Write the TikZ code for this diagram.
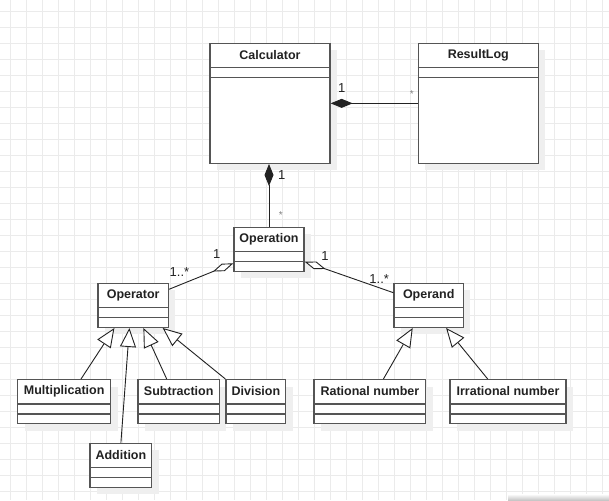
\documentclass[tikz,border=0pt]{standalone}
\usepackage{fontspec}
\setmainfont{Liberation Sans}
\usetikzlibrary{arrows.meta,shadows}
\definecolor{gridgray}{HTML}{EBEBEB}
\definecolor{shadowgray}{HTML}{EFEFEF}
\definecolor{boxgray}{HTML}{555555}
\definecolor{inkgray}{HTML}{222222}
\tikzset{
  cls/.style={draw=boxgray, line width=1.3pt, fill=white, minimum width=#1,
    minimum height=44pt, inner sep=0pt, anchor=north,
    drop shadow={shadow xshift=7pt, shadow yshift=-7pt, fill=shadowgray, opacity=1}},
  clstitle/.style={font=\fontsize{12.5}{15}\selectfont\bfseries, text=inkgray, inner sep=0pt},
  sepline/.style={draw=boxgray, line width=1.3pt},
  gridline/.style={draw=gridgray, line width=0.9pt},
  link/.style={draw=inkgray, line width=0.9pt},
  compo/.style={link, -{Diamond[length=22pt, width=9pt]}},
  aggr/.style={link, -{Diamond[open, length=22pt, width=8pt, fill=white]}},
  inherit/.style={link, -{Triangle[open, length=19pt, width=16pt, fill=white]}},
  mult/.style={font=\fontsize{13}{15}\selectfont, text=inkgray, inner sep=0pt},
  many/.style={font=\fontsize{10}{12}\selectfont, text=gray, inner sep=0pt}
}
\begin{document}
\begin{tikzpicture}[x=1pt,y=-1pt]
  \useasboundingbox (0,0) rectangle (609,500);
  \fill[white] (0,0) rectangle (609,500);
  % background grid
  \foreach \gx in {10,26,...,602} \draw[gridline] (\gx,0) -- (\gx,500);
  \foreach \gy in {11.5,27.5,...,500} \draw[gridline] (0,\gy) -- (609,\gy);
  \shade[top color=white, bottom color=black!22] (508,494) rectangle (609,500);

  % classes
  \node[cls=120pt, minimum height=120pt] (calc) at (270,42.7) {};
  \node[cls=120pt, minimum height=120pt] (log) at (478.3,42.7) {};
  \node[cls=70pt] (oper) at (269,226.7) {};
  \node[cls=70.3pt] (opr) at (133.2,282.7) {};
  \node[cls=69.3pt] (opd) at (428.7,282.7) {};
  \node[cls=93pt] (mul) at (64.2,379) {};
  \node[cls=81.3pt] (sub) at (178.7,379) {};
  \node[cls=59.7pt] (div) at (255.9,379) {};
  \node[cls=61.7pt] (add) at (120.9,442.7) {};
  \node[cls=111.7pt] (rat) at (369.9,379) {};
  \node[cls=116pt] (irr) at (508,379) {};

  \foreach \c/\t in {calc/Calculator, log/ResultLog, oper/Operation, opr/Operator,
      opd/Operand, mul/Multiplication, sub/Subtraction, div/Division, add/Addition,
      rat/Rational number, irr/Irrational number} {
    \node[clstitle] (\c-title) at ([yshift=-12.5pt]\c.north) {\t};
    \draw[sepline] ([yshift=-25pt]\c.north west) -- ([yshift=-25pt]\c.north east);
    \draw[sepline] ([yshift=-35pt]\c.north west) -- ([yshift=-35pt]\c.north east);
  }

  % associations
  \draw[compo] (log.west) -- (calc.east);
  \node[mult] (calc-log-1) at (341.7,88.3) {1};
  \node[many] (calc-log-n) at (411.7,94) {*};

  \draw[compo] (oper.north) -- (oper.north |- calc.south);
  \node[mult] (calc-oper-1) at (281.7,175) {1};
  \node[many] (calc-oper-n) at (280.7,215) {*};

  \draw[aggr] ([yshift=-6.6pt]opr.north east) -- ([yshift=-36.6pt]oper.north west);
  \node[mult] (oper-opr-1) at (216.7,254.3) {1};
  \node[mult] (oper-opr-n) at (179.5,271.7) {1..*};

  \draw[aggr] ([yshift=-10pt]opd.north west) -- ([yshift=-35pt]oper.north east);
  \node[mult] (oper-opd-1) at (325,255.7) {1};
  \node[mult] (oper-opd-n) at (379.2,278.7) {1..*};

  % inheritance
  \draw[inherit] ([xshift=16.8pt]mul.north) -- ([xshift=17pt]opr.south west);
  \draw[inherit] (add.north) -- ([xshift=32pt]opr.south west);
  \draw[inherit] ([xshift=-12pt]sub.north) -- ([xshift=46pt]opr.south west);
  \draw[inherit] (div.north west) -- ([xshift=65.3pt]opr.south west);
  \draw[inherit] ([xshift=13.5pt]rat.north) -- ([xshift=19.3pt]opd.south west);
  \draw[inherit] ([xshift=-20.3pt]irr.north) -- ([xshift=52.7pt]opd.south west);
\end{tikzpicture}
\end{document}
